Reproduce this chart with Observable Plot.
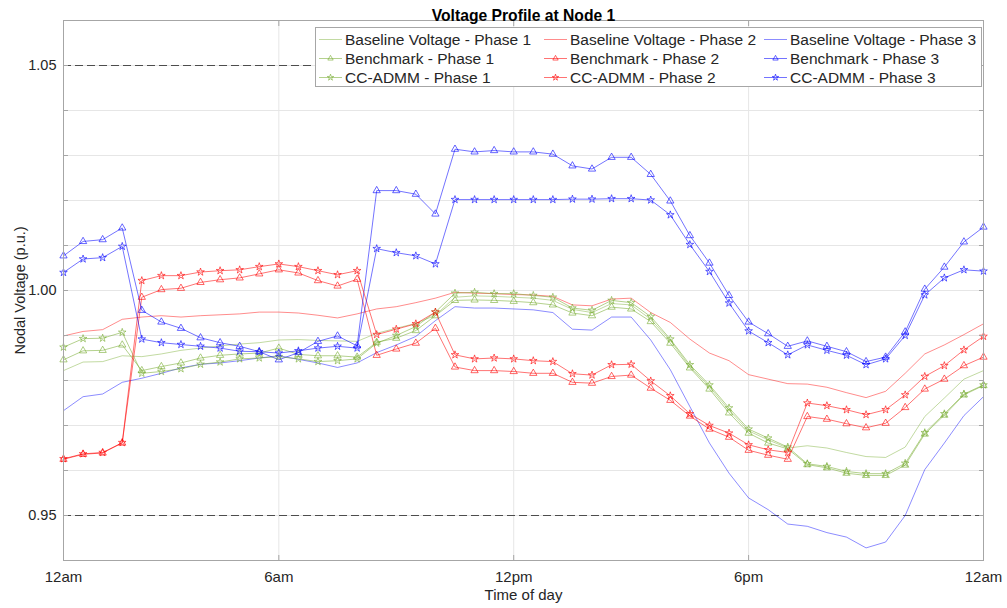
<!DOCTYPE html>
<html><head><meta charset="utf-8">
<script src="https://cdn.jsdelivr.net/npm/d3@7"></script>
<script src="https://cdn.jsdelivr.net/npm/@observablehq/plot@0.6"></script>
<style>
body{margin:0;background:#fff;}
#wrap{position:relative;width:1007px;height:608px;font-family:"Liberation Sans",Arial,Helvetica,sans-serif;}
#legend{position:absolute;left:315px;top:27px;width:667px;height:60px;border:1px solid #a6a6a6;background:#fff;box-sizing:border-box;}
.item{position:absolute;display:flex;align-items:center;font-size:15.5px;color:#262626;white-space:nowrap;height:19px;}
.item svg{margin-right:2px;}
</style></head><body><div id="wrap"></div>
<script>
// Time of day (hours), half-hourly samples
const hours = [0.5,1,1.5,2,2.5,3,3.5,4,4.5,5,5.5,6,6.5,7,7.5,8,8.5,9,9.5,10,10.5,11,11.5,12,12.5,13,13.5,14,14.5,15,15.5,16,16.5,17,17.5,18,18.5,19,19.5,20,20.5,21,21.5,22,22.5,23,23.5,24];
const xTicks = [0.5, 6, 12, 18, 24];
const xTickLabels = ["12am", "6am", "12pm", "6pm", "12am"];
const yMajorTicks = [0.95, 1.00, 1.05];
const yMinorTicks = [0.95,0.96,0.97,0.98,0.99,1.00,1.01,1.02,1.03,1.04,1.05];
const voltageLimits = [0.95, 1.05];

const baselineP1 = [0.9822,0.9841,0.9842,0.9855,0.9853,0.9859,0.9867,0.9872,0.9877,0.9881,0.9884,0.9890,0.9891,0.9889,0.9888,0.9887,0.9905,0.9916,0.9927,0.9945,0.9985,0.9988,0.9987,0.9985,0.9983,0.9978,0.9958,0.9951,0.9971,0.9968,0.9936,0.9889,0.9831,0.9786,0.9734,0.9688,0.9668,0.9650,0.9655,0.9650,0.9640,0.9631,0.9629,0.9652,0.9720,0.9761,0.9803,0.9822];
const benchmarkP1 = [0.9846,0.9866,0.9867,0.9879,0.9822,0.9831,0.9839,0.9850,0.9856,0.9859,0.9861,0.9872,0.9858,0.9855,0.9855,0.9852,0.9885,0.9894,0.9911,0.9944,0.9978,0.9979,0.9978,0.9976,0.9973,0.9968,0.9950,0.9944,0.9963,0.9959,0.9931,0.9883,0.9828,0.9781,0.9728,0.9683,0.9661,0.9648,0.9613,0.9606,0.9594,0.9589,0.9589,0.9612,0.9681,0.9723,0.9768,0.9789];
const admmP1 = [0.9874,0.9893,0.9894,0.9907,0.9816,0.9820,0.9826,0.9836,0.9841,0.9848,0.9850,0.9853,0.9848,0.9842,0.9844,0.9848,0.9883,0.9900,0.9920,0.9952,0.9994,0.9996,0.9993,0.9993,0.9989,0.9985,0.9961,0.9956,0.9978,0.9973,0.9942,0.9892,0.9835,0.9790,0.9739,0.9692,0.9672,0.9652,0.9615,0.9609,0.9598,0.9593,0.9593,0.9616,0.9684,0.9726,0.9770,0.9790];

const baselineP2 = [0.9899,0.9909,0.9913,0.9936,0.9941,0.9944,0.9941,0.9944,0.9946,0.9948,0.9952,0.9952,0.9950,0.9945,0.9939,0.9948,0.9959,0.9964,0.9973,0.9983,0.9996,0.9994,0.9993,0.9991,0.9990,0.9987,0.9968,0.9966,0.9981,0.9983,0.9951,0.9929,0.9892,0.9861,0.9844,0.9813,0.9803,0.9793,0.9792,0.9785,0.9773,0.9762,0.9776,0.9816,0.9859,0.9879,0.9902,0.9926];
const benchmarkP2 = [0.9625,0.9636,0.9639,0.9661,0.9985,1.0002,1.0005,1.0018,1.0024,1.0028,1.0037,1.0046,1.0039,1.0022,1.0010,1.0025,0.9856,0.9870,0.9883,0.9916,0.9830,0.9822,0.9822,0.9820,0.9816,0.9816,0.9796,0.9794,0.9809,0.9812,0.9783,0.9756,0.9721,0.9692,0.9674,0.9645,0.9634,0.9625,0.9720,0.9714,0.9704,0.9695,0.9705,0.9740,0.9781,0.9803,0.9833,0.9852];
const admmP2 = [0.9626,0.9637,0.9640,0.9662,1.0022,1.0033,1.0033,1.0041,1.0044,1.0046,1.0053,1.0059,1.0053,1.0044,1.0035,1.0044,0.9902,0.9914,0.9926,0.9952,0.9857,0.9848,0.9850,0.9848,0.9844,0.9842,0.9815,0.9812,0.9835,0.9836,0.9799,0.9766,0.9726,0.9700,0.9683,0.9657,0.9646,0.9640,0.9750,0.9744,0.9735,0.9724,0.9735,0.9768,0.9809,0.9833,0.9868,0.9898];

const baselineP3 = [0.9733,0.9764,0.9770,0.9796,0.9805,0.9816,0.9828,0.9836,0.9839,0.9844,0.9850,0.9855,0.9847,0.9839,0.9829,0.9839,0.9862,0.9879,0.9898,0.9933,0.9964,0.9961,0.9961,0.9959,0.9957,0.9951,0.9914,0.9912,0.9941,0.9941,0.9890,0.9824,0.9742,0.9661,0.9594,0.9539,0.9513,0.9481,0.9476,0.9462,0.9452,0.9428,0.9441,0.9500,0.9602,0.9661,0.9722,0.9764];
const benchmarkP3 = [1.0077,1.0109,1.0113,1.0139,0.9956,0.9930,0.9916,0.9895,0.9884,0.9876,0.9864,0.9846,0.9862,0.9887,0.9899,0.9877,1.0222,1.0222,1.0214,1.0170,1.0314,1.0308,1.0311,1.0308,1.0308,1.0303,1.0277,1.0270,1.0296,1.0296,1.0258,1.0199,1.0122,1.0061,0.9989,0.9930,0.9904,0.9876,0.9888,0.9876,0.9864,0.9842,0.9852,0.9908,1.0003,1.0052,1.0108,1.0141];
const admmP3 = [1.0040,1.0070,1.0073,1.0098,0.9892,0.9884,0.9880,0.9876,0.9872,0.9865,0.9864,0.9861,0.9866,0.9872,0.9876,0.9872,1.0093,1.0084,1.0077,1.0059,1.0202,1.0202,1.0202,1.0202,1.0202,1.0202,1.0203,1.0203,1.0204,1.0204,1.0201,1.0168,1.0102,1.0042,0.9972,0.9910,0.9884,0.9857,0.9879,0.9867,0.9856,0.9835,0.9848,0.9900,0.9990,1.0028,1.0046,1.0043];

const green = "#77ac30", red = "#ff0000", blue = "#0000ff";
const series = [
  {name:"Baseline Voltage - Phase 1", values:baselineP1, color:green, kind:"base"},
  {name:"Baseline Voltage - Phase 2", values:baselineP2, color:red, kind:"base"},
  {name:"Baseline Voltage - Phase 3", values:baselineP3, color:blue, kind:"base"},
  {name:"Benchmark - Phase 1", values:benchmarkP1, color:green, kind:"triangle"},
  {name:"Benchmark - Phase 2", values:benchmarkP2, color:red, kind:"triangle"},
  {name:"Benchmark - Phase 3", values:benchmarkP3, color:blue, kind:"triangle"},
  {name:"CC-ADMM - Phase 1", values:admmP1, color:green, kind:"star"},
  {name:"CC-ADMM - Phase 2", values:admmP2, color:red, kind:"star"},
  {name:"CC-ADMM - Phase 3", values:admmP3, color:blue, kind:"star"}
];
const LINE_OP = {base:0.45, triangle:0.55, star:0.55};
const MARK_R = {triangle:2.7, star:2.4};

const seriesMarks = series.flatMap(s => {
  const rows = s.values.map((v, i) => ({t: hours[i], v}));
  const m = [Plot.line(rows, {x:"t", y:"v", stroke:s.color, strokeOpacity:LINE_OP[s.kind], strokeWidth:1})];
  if (s.kind !== "base") m.push(Plot.dot(rows, {x:"t", y:"v", symbol:s.kind, r:MARK_R[s.kind], fill:"none", stroke:s.color, strokeOpacity:0.6, strokeWidth:1}));
  return m;
});

const chart = Plot.plot({
  width: 1007, height: 608,
  marginLeft: 63, marginRight: 24, marginTop: 20, marginBottom: 48,
  x: {type:"linear", domain:[0.5, 24]},
  y: {type:"linear", domain:[0.94, 1.06]},
  style: {fontFamily:'"Liberation Sans", Arial, Helvetica, sans-serif', fontSize:"14px", color:"#262626", background:"white"},
  marks: [
    Plot.gridY(yMinorTicks, {stroke:"#e6e6e6", strokeOpacity:1}),
    Plot.gridX(xTicks.slice(1, 4), {stroke:"#e6e6e6", strokeOpacity:1}),
    Plot.ruleY(voltageLimits, {stroke:"#4d4d4d", strokeDasharray:"8,4", strokeWidth:1}),
    ...seriesMarks,
    Plot.frame({stroke:"#a6a6a6"}),
    Plot.axisY(yMinorTicks, {anchor:"left", tickSize:-5, tickFormat:() => "", stroke:"#a6a6a6", label:null}),
    Plot.axisY(yMinorTicks, {anchor:"right", tickSize:-5, tickFormat:() => "", stroke:"#a6a6a6", label:null}),
    Plot.axisY(yMajorTicks, {anchor:"left", tickSize:0, tickPadding:7, tickFormat:d3.format(".2f"), fill:"#262626", fontSize:14.5,
      label:"Nodal Voltage (p.u.)", labelAnchor:"center", labelOffset:49, labelArrow:"none"}),
    Plot.axisX(xTicks, {anchor:"bottom", tickSize:-5, tickPadding:16, stroke:"#a6a6a6", fill:"#262626", fontSize:15,
      tickFormat:d => xTickLabels[xTicks.indexOf(d)], label:"Time of day", labelAnchor:"center", labelOffset:39, labelArrow:"none"}),
    Plot.axisX(xTicks, {anchor:"top", tickSize:-5, stroke:"#a6a6a6", tickFormat:() => "", label:null}),
    Plot.text(["Voltage Profile at Node 1"], {text:d => d, frameAnchor:"top", dy:-11, fontWeight:"bold", fontSize:15.7, fill:"#000"})
  ]
});
const wrap = document.getElementById("wrap");
wrap.appendChild(chart);

// legend
const legend = document.createElement("div");
legend.id = "legend";
wrap.appendChild(legend);
const colX = [2, 227, 447];
const rowY = [2, 21, 40];
series.forEach((s, k) => {
  const col = k % 3, row = Math.floor(k / 3);
  const item = document.createElement("div");
  item.className = "item";
  item.style.left = colX[col] + "px";
  item.style.top = rowY[row] + "px";
  const svg = d3.create("svg").attr("width", 25).attr("height", 19);
  svg.append("line").attr("x1", 1).attr("x2", 24).attr("y1", 9.5).attr("y2", 9.5)
    .attr("stroke", s.color).attr("stroke-opacity", LINE_OP[s.kind]);
  if (s.kind !== "base") {
    const sym = s.kind === "triangle" ? d3.symbolTriangle : d3.symbolStar;
    svg.append("path").attr("transform", "translate(12.5,9.5)")
      .attr("d", d3.symbol(sym, Math.PI * 2 * 2))
      .attr("fill", "none").attr("stroke", s.color).attr("stroke-opacity", 0.6);
  }
  item.appendChild(svg.node());
  const span = document.createElement("span");
  span.textContent = s.name;
  item.appendChild(span);
  legend.appendChild(item);
});
</script></body></html>
